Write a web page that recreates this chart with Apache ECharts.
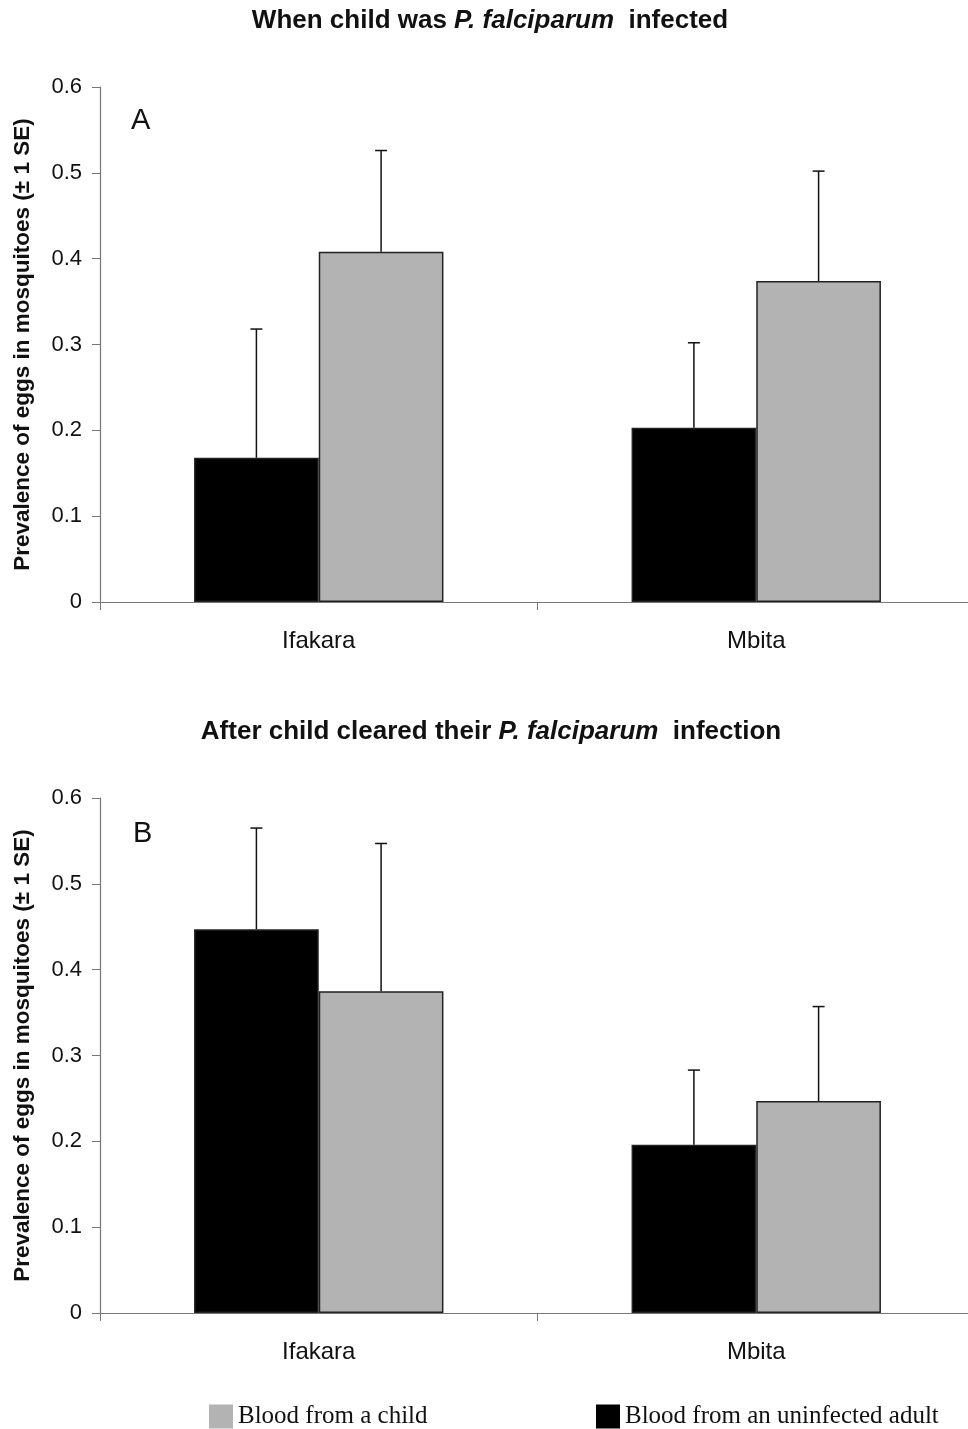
<!DOCTYPE html>
<html>
<head>
<meta charset="utf-8">
<script src="https://cdn.jsdelivr.net/npm/echarts@6/dist/echarts.min.js"></script>
<style>html,body{margin:0;padding:0;background:#fff}#c{width:968px;height:1429px}</style>
</head>
<body>
<div id="c"></div>
<script>
const categories = ['Ifakara', 'Mbita'];
const yTicks = { min: 0, max: 0.6, interval: 0.1 };
// Panel A: when child was P. falciparum infected
const adultA = [0.168, 0.203];
const childA = [0.408, 0.374];
const adultErrA = [0.150, 0.099];
const childErrA = [0.118, 0.128];
// Panel B: after child cleared infection
const adultB = [0.447, 0.196];
const childB = [0.375, 0.247];
const adultErrB = [0.118, 0.087];
const childErrB = [0.172, 0.110];

const NARROW = "'Liberation Sans Narrow', 'Arial Narrow', 'Liberation Sans', sans-serif";
const SANS = "'Liberation Sans', Arial, sans-serif";
const SERIF = "'Liberation Serif', 'Times New Roman', serif";
const CAT_GAP = 0.43;

function errRender(sign) {
  return function (params, api) {
    const cat = api.value(0), v = api.value(1), e = api.value(2);
    const base = api.coord([cat, v]);
    const top = api.coord([cat, v + e]);
    const band = api.size([1, 0])[0];
    const bw = band * (1 - CAT_GAP) / 2;
    const x = base[0] + sign * bw / 2;
    return {
      type: 'group',
      children: [
        { type: 'line', shape: { x1: x, y1: base[1], x2: x, y2: top[1] }, style: { stroke: '#111', lineWidth: 1.5 } },
        { type: 'line', shape: { x1: x - 6, y1: top[1], x2: x + 6, y2: top[1] }, style: { stroke: '#111', lineWidth: 1.5 } }
      ]
    };
  };
}

function xAxis(gi) {
  return {
    type: 'category', gridIndex: gi, data: categories,
    axisLine: { lineStyle: { color: '#777', width: 1.2 } },
    axisTick: { show: true, length: 8, lineStyle: { color: '#777' } },
    axisLabel: { fontFamily: NARROW, fontSize: 24, color: '#111', margin: 27 }
  };
}
function yAxis(gi) {
  return {
    type: 'value', gridIndex: gi, min: yTicks.min, max: yTicks.max, interval: yTicks.interval,
    name: 'Prevalence of eggs in mosquitoes (\u00b1 1 SE)', nameLocation: 'middle', nameRotate: 90, nameGap: 66,
    nameTextStyle: { fontFamily: SANS, fontWeight: 'bold', fontSize: 22.5, color: '#111' },
    axisLine: { show: true, lineStyle: { color: '#777', width: 1.2 } },
    axisTick: { show: true, length: 8, lineStyle: { color: '#777' } },
    axisLabel: { fontFamily: SANS, fontSize: 22, color: '#111', margin: 18,
      formatter: v => (v === 0 ? '0' : v.toFixed(1)) },
    splitLine: { show: false }
  };
}
function bars(name, data, color, gi) {
  return {
    name: name, type: 'bar', xAxisIndex: gi, yAxisIndex: gi, data: data,
    barGap: '0%', barCategoryGap: (CAT_GAP * 100) + '%',
    itemStyle: { color: color, borderColor: '#222', borderWidth: 1.5 },
    z: 2
  };
}
function errs(vals, errsArr, sign, gi) {
  return {
    type: 'custom', xAxisIndex: gi, yAxisIndex: gi, renderItem: errRender(sign),
    data: categories.map((c, i) => [i, vals[i], errsArr[i]]), z: 5, silent: true
  };
}

const titleStyleRich = {
  b: { fontFamily: NARROW, fontWeight: 'bold', fontSize: 26, color: '#111' },
  i: { fontFamily: NARROW, fontWeight: 'bold', fontStyle: 'italic', fontSize: 26, color: '#111' }
};

const chart = echarts.init(document.getElementById('c'), null, { renderer: 'canvas' });
chart.setOption({
  animation: false,
  backgroundColor: '#fff',
  title: [
    { text: '{b|When child was }{i|P. falciparum}{b|  infected}', left: 485, top: 3, textAlign: 'center',
      textStyle: { rich: titleStyleRich } },
    { text: '{b|After child cleared their }{i|P. falciparum}{b|  infection}', left: 486, top: 714, textAlign: 'center',
      textStyle: { rich: titleStyleRich } },
    { text: 'A', left: 126, top: 101, textStyle: { fontFamily: NARROW, fontWeight: 'normal', fontSize: 29, color: '#111' } },
    { text: 'B', left: 128, top: 814, textStyle: { fontFamily: NARROW, fontWeight: 'normal', fontSize: 29, color: '#111' } }
  ],
  legend: [
    { data: ['Blood from a child'], left: 209, top: 1404, padding: 0, icon: 'rect', itemWidth: 24, itemHeight: 24, itemGap: 6,
      textStyle: { fontFamily: SERIF, fontSize: 25, color: '#111' }, itemStyle: { borderWidth: 0 } },
    { data: ['Blood from an uninfected adult'], left: 596, top: 1404, padding: 0, icon: 'rect', itemWidth: 24, itemHeight: 24,
      textStyle: { fontFamily: SERIF, fontSize: 25, color: '#111' }, itemStyle: { borderWidth: 0 } }
  ],
  grid: [
    { left: 100, top: 87, width: 875, height: 515, outerBoundsMode: 'none' },
    { left: 100, top: 798, width: 875, height: 515, outerBoundsMode: 'none' }
  ],
  xAxis: [xAxis(0), xAxis(1)],
  yAxis: [yAxis(0), yAxis(1)],
  series: [
    bars('Blood from an uninfected adult', adultA, '#000000', 0),
    bars('Blood from a child', childA, '#b3b3b3', 0),
    errs(adultA, adultErrA, -1, 0),
    errs(childA, childErrA, 1, 0),
    bars('Blood from an uninfected adult', adultB, '#000000', 1),
    bars('Blood from a child', childB, '#b3b3b3', 1),
    errs(adultB, adultErrB, -1, 1),
    errs(childB, childErrB, 1, 1)
  ]
});
</script>
</body>
</html>
